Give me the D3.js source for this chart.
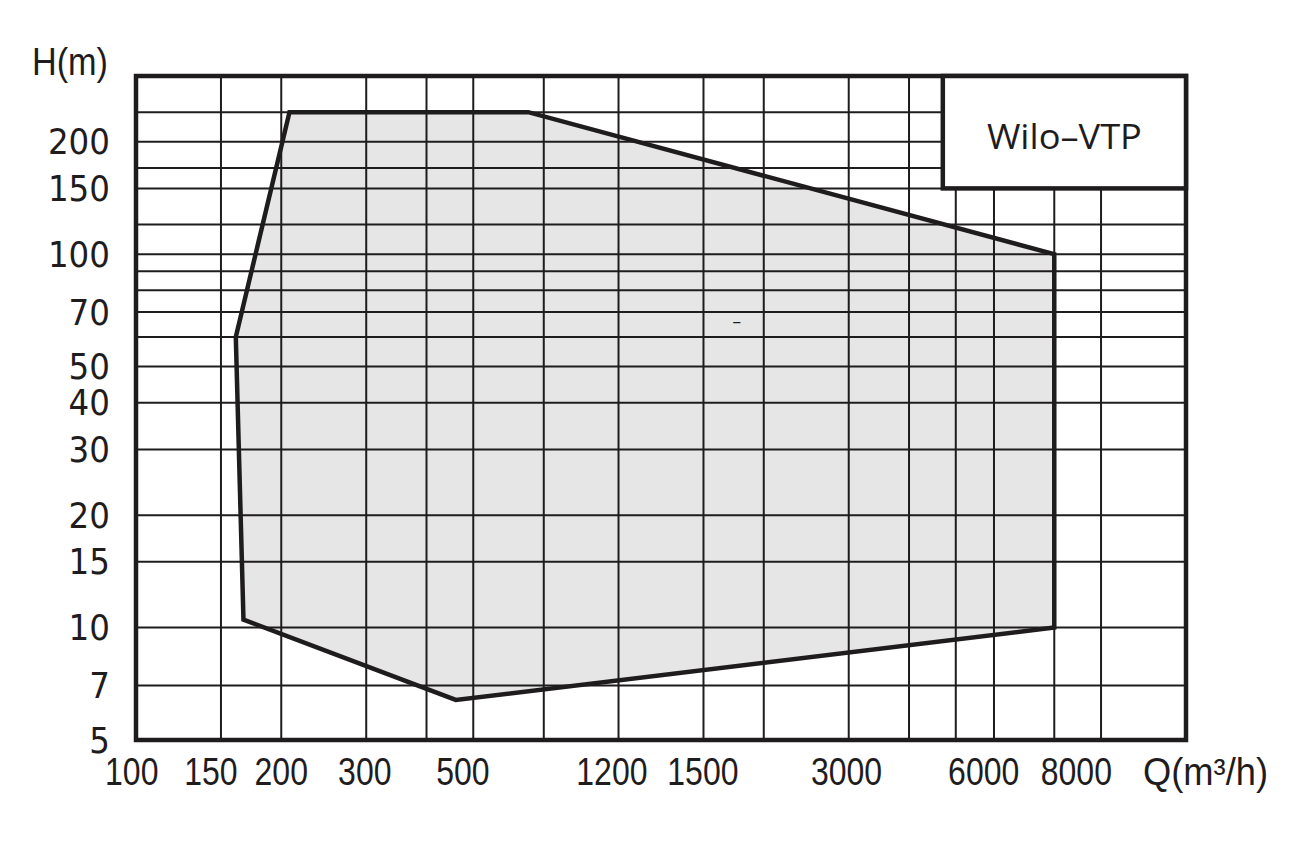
<!DOCTYPE html>
<html>
<head>
<meta charset="utf-8">
<script src="https://cdn.jsdelivr.net/npm/d3@7"></script>
<style>
  html, body { margin: 0; padding: 0; background: #fff; }
  svg { display: block; }
</style>
</head>
<body>
<svg id="chart" width="1297" height="844"></svg>
<script>
// ---- data ----
const qDomain = [100, 15000];
const hDomain = [5, 300];
const qGrid = [150, 200, 300, 400, 500, 700, 1000, 1500, 2000, 3000, 4000, 5000, 6000, 8000, 10000];
const hGrid = [7, 10, 15, 20, 30, 40, 50, 60, 70, 80, 90, 100, 120, 150, 170, 200, 240];
const qTickLabels = ["100", "150", "200", "300", "500", "1200", "1500", "3000", "6000", "8000"];
const qTickLabelAt = [98, 143, 200, 298, 476, 969, 1496, 2969, 5713, 8889];
const hTickLabels = ["5", "7", "10", "15", "20", "30", "40", "50", "70", "100", "150", "200"];
const hTickValues = [5, 7, 10, 15, 20, 30, 40, 50, 70, 100, 150, 200];
const rangeQ = [208, 650, 8000, 8000, 460, 167, 161];
const rangeH = [240, 240, 100, 10, 6.4, 10.5, 60];
const title = "Wilo–VTP";
const titleBoxQ = [4700, 15000];
const titleBoxH = [150, 300];
const xTitle = "Q(m³/h)";
const yTitle = "H(m)";

// ---- layout ----
const svg = d3.select("#chart");
const L = 136, R = 1186, T = 76, B = 740;
const x = d3.scaleLog().domain(qDomain).range([L, R]);
const y = d3.scaleLog().domain(hDomain).range([B, T]);
const ink = "#1f1c1d";

const pts = rangeQ.map((q, i) => [x(q), y(rangeH[i])]);

// operating range fill
svg.append("path")
  .attr("d", d3.line()(pts) + "Z")
  .attr("fill", "#e6e6e6").attr("stroke", "none");

// grid
svg.append("g").selectAll("line").data(qGrid).join("line")
  .attr("x1", d => x(d)).attr("x2", d => x(d))
  .attr("y1", T).attr("y2", B)
  .attr("stroke", ink).attr("stroke-width", 2);
svg.append("g").selectAll("line").data(hGrid).join("line")
  .attr("x1", L).attr("x2", R)
  .attr("y1", d => y(d)).attr("y2", d => y(d))
  .attr("stroke", ink).attr("stroke-width", 2);

// polygon outline on top
svg.append("path")
  .attr("d", d3.line()(pts) + "Z")
  .attr("fill", "none")
  .attr("stroke", ink).attr("stroke-width", 4.5);

// frame
svg.append("rect")
  .attr("x", L).attr("y", T).attr("width", R - L).attr("height", B - T)
  .attr("fill", "none").attr("stroke", ink).attr("stroke-width", 4.5);

// title box
const bx0 = x(titleBoxQ[0]), bx1 = x(titleBoxQ[1]);
const by0 = y(titleBoxH[1]), by1 = y(titleBoxH[0]);
svg.append("rect")
  .attr("x", bx0).attr("y", by0).attr("width", bx1 - bx0).attr("height", by1 - by0)
  .attr("fill", "#fff").attr("stroke", ink).attr("stroke-width", 4.5);
svg.append("text")
  .attr("x", (bx0 + bx1) / 2).attr("y", 149)
  .attr("text-anchor", "middle")
  .attr("font-family", "'Open Sans', 'Liberation Sans', sans-serif")
  .attr("font-size", 35).attr("fill", ink)
  .attr("textLength", 155).attr("lengthAdjust", "spacingAndGlyphs")
  .text(title);

// x tick labels
svg.append("g").selectAll("text").data(qTickLabels).join("text")
  .attr("x", (d, i) => x(qTickLabelAt[i]))
  .attr("y", 785)
  .attr("text-anchor", "middle")
  .attr("font-family", "'Liberation Sans Narrow', 'Liberation Sans', sans-serif")
  .attr("font-size", 38).attr("fill", ink)
  .attr("textLength", d => d.length * 17.8).attr("lengthAdjust", "spacingAndGlyphs")
  .text(d => d);

// x title
svg.append("text")
  .attr("x", 1143).attr("y", 785)
  .attr("font-family", "'Liberation Sans Narrow', 'Liberation Sans', sans-serif")
  .attr("font-size", 38).attr("fill", ink)
  .attr("textLength", 125).attr("lengthAdjust", "spacingAndGlyphs")
  .text(xTitle);

// y tick labels
svg.append("g").selectAll("text").data(hTickLabels).join("text")
  .attr("x", 110)
  .attr("y", (d, i) => y(hTickValues[i]))
  .attr("dy", "0.36em")
  .attr("text-anchor", "end")
  .attr("font-family", "'DejaVu Sans', sans-serif")
  .attr("font-size", 35).attr("fill", ink)
  .attr("textLength", d => d.length * 20.7).attr("lengthAdjust", "spacingAndGlyphs")
  .text(d => d);

// y title
svg.append("text")
  .attr("x", 32).attr("y", 75)
  .attr("font-family", "'Liberation Sans Narrow', 'Liberation Sans', sans-serif")
  .attr("font-size", 38).attr("fill", ink)
  .attr("textLength", 76).attr("lengthAdjust", "spacingAndGlyphs")
  .text(yTitle);

// small stray dash in the reference
svg.append("text")
  .attr("x", x(1758)).attr("y", y(66))
  .attr("dy", "0.3em")
  .attr("text-anchor", "middle")
  .attr("font-family", "'DejaVu Sans', sans-serif")
  .attr("font-size", 18).attr("fill", ink)
  .text("–");
</script>
</body>
</html>
